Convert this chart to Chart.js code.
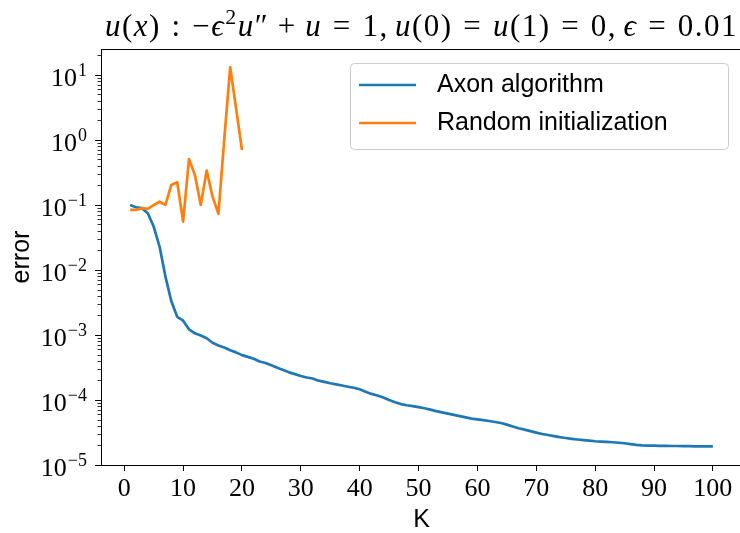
<!DOCTYPE html>
<html>
<head>
<meta charset="utf-8">
<script src="https://cdn.jsdelivr.net/npm/chart.js@4.4.1/dist/chart.umd.min.js"></script>
<style>
html, body { margin: 0; padding: 0; overflow: hidden; background: #fff; }
#wrap { width: 745px; height: 533px; }
</style>
</head>
<body>
<div id="wrap"><canvas id="errorChart" width="745" height="533"></canvas></div>
<script>
// K = 1..100 iterations
const kSteps = Array.from({ length: 100 }, (_, i) => i + 1);

const axonError = [
    0.100, 0.092, 0.089, 0.0745, 0.0465, 0.0229, 0.0079, 0.0033, 0.0019, 0.00166,
    0.00122, 0.00106, 0.00098, 0.00089, 0.00076, 0.00069, 0.00064, 0.00058, 0.00054, 0.00049,
    0.00046, 0.00043, 0.00039, 0.00037, 0.000342, 0.000312, 0.00029, 0.000266, 0.00025, 0.000234,
    0.000222, 0.000214, 0.000198, 0.00019, 0.000181, 0.000174, 0.000167, 0.00016, 0.000154, 0.000146,
    0.000134, 0.000124, 0.000117, 0.000109, 0.0001, 0.0000925, 0.0000865, 0.000083, 0.0000805, 0.0000775,
    0.0000745, 0.000071, 0.0000675, 0.0000645, 0.0000618, 0.000059, 0.0000565, 0.000054, 0.0000518, 0.0000503,
    0.000049, 0.0000475, 0.0000458, 0.0000443, 0.0000418, 0.0000392, 0.0000368, 0.000035, 0.0000332, 0.0000315,
    0.00003, 0.0000289, 0.0000278, 0.0000268, 0.000026, 0.0000253, 0.0000247, 0.0000242, 0.0000237, 0.0000232,
    0.0000229, 0.0000227, 0.0000224, 0.000022, 0.0000216, 0.000021, 0.0000204, 0.00002, 0.0000199, 0.0000198,
    0.0000197, 0.0000197, 0.0000196, 0.0000196, 0.0000195, 0.0000195, 0.0000194, 0.0000194, 0.0000193, 0.0000193
];

const randomError = [
    0.084, 0.084, 0.089, 0.087, 0.099, 0.112, 0.10, 0.203, 0.223, 0.0553,
    0.505, 0.29, 0.10, 0.337, 0.134, 0.0727, 1.05, 13.1, 3.05, 0.70
];

const seriesNames = ["Axon algorithm", "Random initialization"];
const seriesColors = ["#1f77b4", "#ff7f0e"];

const xTickValues = [0, 10, 20, 30, 40, 50, 60, 70, 80, 90, 100];
const yDecades = [-5, -4, -3, -2, -1, 0, 1];

// title pieces: [text, style] or a number = math gap in em
const titleParts = [
    ["u", "i"], ["(", ""], ["x", "i"], [")", ""], 0.278, [":", ""], 0.278, ["\u2212", ""],
    ["\u03f5", "i"], ["2", "sup"], ["u", "i"], ["\u2033", ""], 0.222, ["+", ""], 0.222,
    ["u", "i"], 0.278, ["=", ""], 0.278, ["1,", ""], 0.167,
    ["u", "i"], ["(0)", ""], 0.278, ["=", ""], 0.278, ["u", "i"], ["(1)", ""], 0.278, ["=", ""], 0.278,
    ["0,", ""], 0.167, ["\u03f5", "i"], 0.278, ["=", ""], 0.278, ["0.01", ""]
];
const titleWidth = 633;

const serifFont = "'Liberation Serif', 'DejaVu Serif', serif";
const sansFont = "'Liberation Sans', 'DejaVu Sans', sans-serif";

function toPoints(values) {
    return values.map((v, i) => ({ x: kSteps[i], y: v }));
}

function drawTitle(ctx, area) {
    const size = 31;
    const fontFor = style => {
        if (style === "i") return "italic " + size + "px " + serifFont;
        if (style === "sup") return Math.round(size * 0.7) + "px " + serifFont;
        return size + "px " + serifFont;
    };
    ctx.letterSpacing = "1.5px";
    let textW = 0, gapW = 0;
    titleParts.forEach(p => {
        if (typeof p === "number") { gapW += p * size; return; }
        ctx.font = fontFor(p[1]);
        textW += ctx.measureText(p[0]).width;
    });
    // stretch the math gaps so the line spans like the original
    const gapScale = gapW > 0 ? Math.max(1, (titleWidth - textW) / gapW) : 1;
    let tx = (area.left + area.right) / 2 - (textW + gapW * gapScale) / 2;
    const ty = 36;
    ctx.textAlign = "left";
    ctx.textBaseline = "alphabetic";
    ctx.fillStyle = "#000";
    titleParts.forEach(p => {
        if (typeof p === "number") { tx += p * size * gapScale; return; }
        ctx.font = fontFor(p[1]);
        ctx.fillText(p[0], tx, p[1] === "sup" ? ty - 12 : ty);
        tx += ctx.measureText(p[0]).width;
    });
    ctx.letterSpacing = "0px";
}

const figurePlugin = {
    id: "figureDecor",
    afterDraw(chart) {
        const ctx = chart.ctx;
        const area = chart.chartArea;
        const yScale = chart.scales.y;

        ctx.save();

        // box around the axes
        ctx.strokeStyle = "#000";
        ctx.lineWidth = 1;
        ctx.strokeRect(area.left + 0.5, area.top + 0.5, area.right - area.left, area.bottom - area.top);

        // y ticks, major + minor
        yDecades.forEach(d => {
            for (let m = 1; m <= 9; m++) {
                const v = m * Math.pow(10, d);
                if (v < yScale.min || v > yScale.max) continue;
                const py = Math.round(yScale.getPixelForValue(v)) + 0.5;
                ctx.beginPath();
                ctx.lineWidth = m === 1 ? 1 : 0.8;
                ctx.moveTo(area.left - (m === 1 ? 6 : 3.5), py);
                ctx.lineTo(area.left, py);
                ctx.stroke();
            }
        });

        // y tick labels 10^d
        ctx.fillStyle = "#000";
        ctx.textBaseline = "alphabetic";
        yDecades.forEach(d => {
            const py = yScale.getPixelForValue(Math.pow(10, d));
            const expText = (d < 0 ? "\u2212" : "") + Math.abs(d);
            ctx.font = "18px " + serifFont;
            const expW = ctx.measureText(expText).width;
            const right = area.left - 14;
            ctx.textAlign = "left";
            ctx.fillText(expText, right - expW, py + 1);
            ctx.font = "26px " + serifFont;
            ctx.textAlign = "right";
            ctx.fillText("10", right - expW - 1, py + 11);
        });

        drawTitle(ctx, area);

        // legend
        const lx = 350, ly = 63, lw = 378, lh = 86;
        ctx.beginPath();
        ctx.roundRect(lx + 0.5, ly + 0.5, lw, lh, 4);
        ctx.fillStyle = "rgba(255,255,255,0.8)";
        ctx.fill();
        ctx.strokeStyle = "#cccccc";
        ctx.lineWidth = 1;
        ctx.stroke();

        chart.data.datasets.forEach((ds, i) => {
            const rowY = 85 + i * 38;
            ctx.beginPath();
            ctx.strokeStyle = ds.borderColor;
            ctx.lineWidth = 2.7;
            ctx.moveTo(359, rowY);
            ctx.lineTo(416, rowY);
            ctx.stroke();
            ctx.fillStyle = "#000";
            ctx.font = "25px " + sansFont;
            ctx.textAlign = "left";
            ctx.textBaseline = "middle";
            ctx.fillText(ds.label, 437, rowY);
        });

        ctx.restore();
    }
};

const chart = new Chart(document.getElementById("errorChart"), {
    type: "line",
    data: {
        datasets: [
            {
                label: seriesNames[0],
                data: toPoints(axonError),
                borderColor: seriesColors[0],
                backgroundColor: seriesColors[0],
                borderWidth: 2.7,
                pointRadius: 0,
                tension: 0,
                borderJoinStyle: "round",
                order: 2
            },
            {
                label: seriesNames[1],
                data: toPoints(randomError),
                borderColor: seriesColors[1],
                backgroundColor: seriesColors[1],
                borderWidth: 2.7,
                pointRadius: 0,
                tension: 0,
                borderJoinStyle: "round",
                order: 1
            }
        ]
    },
    options: {
        responsive: false,
        devicePixelRatio: 1,
        animation: false,
        layout: { padding: { top: 49, right: 3, left: 0, bottom: 0 } },
        plugins: {
            legend: { display: false },
            tooltip: { enabled: false }
        },
        scales: {
            x: {
                type: "linear",
                min: -3.95,
                max: 104.95,
                afterBuildTicks: scale => {
                    scale.ticks = xTickValues.map(v => ({ value: v }));
                },
                afterFit: scale => { scale.height = 68; },
                grid: {
                    drawOnChartArea: false,
                    drawTicks: true,
                    tickLength: 6,
                    tickColor: "#000",
                    tickWidth: 1
                },
                border: { color: "#000", width: 1 },
                ticks: {
                    autoSkip: false,
                    maxRotation: 0,
                    padding: 3,
                    color: "#000",
                    font: { family: serifFont, size: 26 }
                },
                title: {
                    display: true,
                    text: "K",
                    color: "#000",
                    font: { family: sansFont, size: 25, lineHeight: 1 },
                    padding: 0
                }
            },
            y: {
                type: "logarithmic",
                min: 1e-5,
                max: 25,
                afterFit: scale => { scale.width = 101; },
                grid: { display: false },
                border: { color: "#000", width: 1 },
                ticks: { display: false },
                title: {
                    display: true,
                    text: "error",
                    color: "#000",
                    font: { family: sansFont, size: 25, lineHeight: 1 },
                    padding: { top: 10, bottom: 0 }
                }
            }
        }
    },
    plugins: [figurePlugin]
});
</script>
</body>
</html>
